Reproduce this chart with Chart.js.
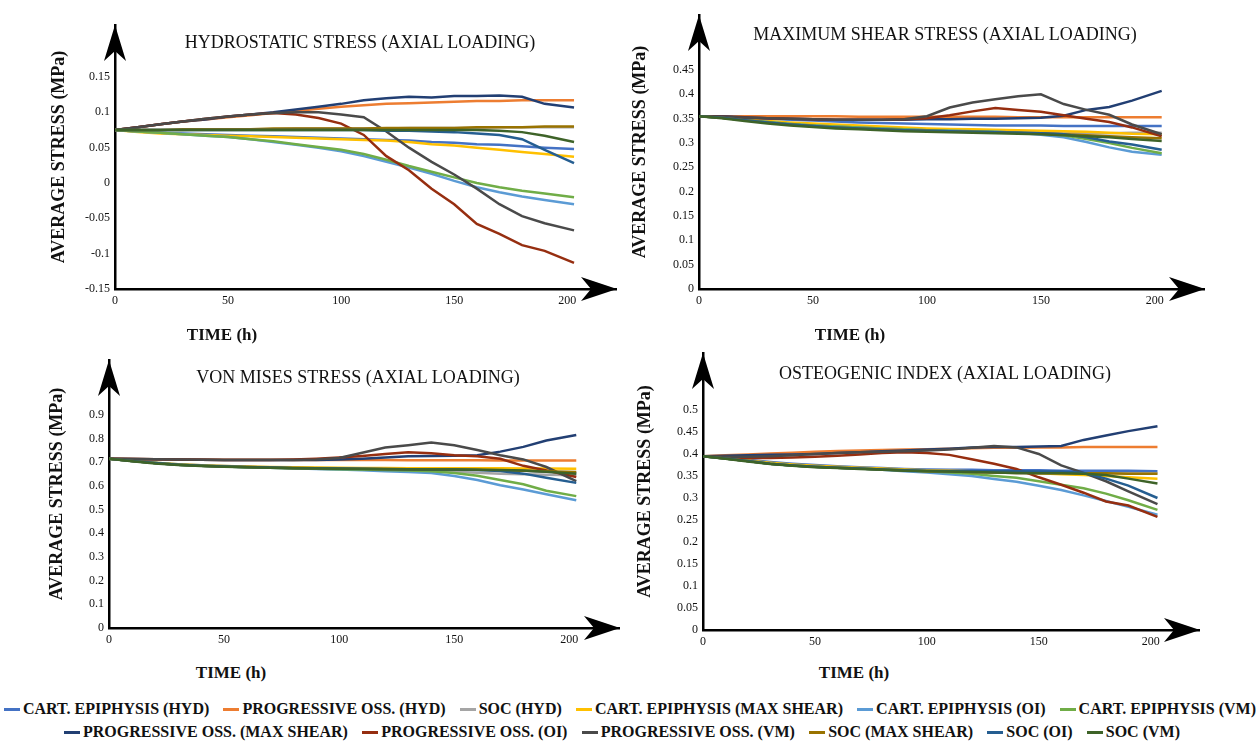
<!DOCTYPE html>
<html>
<head>
<meta charset="utf-8">
<script src="https://cdn.jsdelivr.net/npm/chart.js@4.4.1/dist/chart.umd.min.js"></script>
<style>
  body { margin: 0; background: #fff; }
  #page { position: relative; width: 1258px; height: 742px; overflow: hidden;
          font-family: "Liberation Serif", "Times New Roman", serif; color: #111; }
  canvas { position: absolute; }
  .txt { position: absolute; white-space: nowrap; transform: translate(-50%, -50%); }
  .ttl { font-size: 18px; }
  .xlab { font-size: 17px; font-weight: bold; }
  .row { position: absolute; display: flex; justify-content: space-between;
         font-weight: bold; font-size: 16px; line-height: 18px; }
  .item { display: flex; align-items: center; white-space: nowrap; }
  .item i { display: inline-block; width: 16px; height: 3px; margin-right: 3px; }
</style>
</head>
<body>
<div id="page">
  <canvas id="hyd" width="617" height="319" style="left:0px;top:0px"></canvas>
  <canvas id="shear" width="585" height="319" style="left:620px;top:0px"></canvas>
  <canvas id="vm" width="620" height="318" style="left:0px;top:340px"></canvas>
  <canvas id="oi" width="580" height="320" style="left:620px;top:340px"></canvas>

  <div class="txt ttl" style="left:360px;top:42px">HYDROSTATIC STRESS (AXIAL LOADING)</div>
  <div class="txt ttl" style="left:945px;top:34px">MAXIMUM SHEAR STRESS (AXIAL LOADING)</div>
  <div class="txt ttl" style="left:358px;top:377px">VON MISES STRESS (AXIAL LOADING)</div>
  <div class="txt ttl" style="left:945px;top:373px">OSTEOGENIC INDEX (AXIAL LOADING)</div>

  <div class="txt xlab" style="left:222px;top:335px">TIME (h)</div>
  <div class="txt xlab" style="left:850px;top:335px">TIME (h)</div>
  <div class="txt xlab" style="left:231px;top:673px">TIME (h)</div>
  <div class="txt xlab" style="left:854px;top:673px">TIME (h)</div>

  <div class="row" id="row1" style="left:4px;top:700px;width:1252px"></div>
  <div class="row" id="row2" style="left:64px;top:723px;width:1116px"></div>
</div>
<script>
// time (h) of each sample
const times = [0, 10, 20, 30, 40, 50, 60, 70, 80, 90, 100, 110, 120, 130, 140, 150, 160, 170, 180, 190, 203];
const timeTicks = [0, 50, 100, 150, 200];

const seriesNames = [
  "CART. EPIPHYSIS (HYD)", "PROGRESSIVE OSS. (HYD)", "SOC (HYD)",
  "CART. EPIPHYSIS (MAX SHEAR)", "CART. EPIPHYSIS (OI)", "CART. EPIPHYSIS (VM)",
  "PROGRESSIVE OSS. (MAX SHEAR)", "PROGRESSIVE OSS. (OI)", "PROGRESSIVE OSS. (VM)",
  "SOC (MAX SHEAR)", "SOC (OI)", "SOC (VM)"
];

const hydTicks = [-0.15, -0.1, -0.05, 0, 0.05, 0.1, 0.15];
const shearTicks = [0, 0.05, 0.1, 0.15, 0.2, 0.25, 0.3, 0.35, 0.4, 0.45];
const vmTicks = [0, 0.1, 0.2, 0.3, 0.4, 0.5, 0.6, 0.7, 0.8, 0.9];
const oiTicks = [0, 0.05, 0.1, 0.15, 0.2, 0.25, 0.3, 0.35, 0.4, 0.45, 0.5];

// one row per series, same order as seriesNames
const hydrostatic = [
  [.075,.073,.071,.07,.069,.068,.067,.066,.065,.064,.063,.062,.061,.06,.058,.057,.055,.054,.052,.05,.048],
  [.075,.079,.083,.087,.09,.093,.096,.099,.102,.105,.108,.11,.112,.113,.114,.115,.116,.116,.117,.117,.117],
  [.075,.075,.075,.075,.076,.076,.076,.076,.077,.077,.077,.077,.077,.078,.078,.078,.078,.079,.079,.079,.079],
  [.075,.072,.07,.069,.068,.067,.066,.065,.064,.063,.062,.061,.06,.058,.055,.053,.05,.047,.044,.041,.037],
  [.075,.073,.071,.069,.067,.065,.062,.058,.054,.05,.045,.038,.03,.022,.013,.003,-.006,-.013,-.019,-.024,-.03],
  [.075,.073,.071,.069,.067,.065,.062,.059,.055,.051,.047,.041,.033,.024,.016,.008,0,-.006,-.011,-.015,-.02],
  [.075,.079,.083,.087,.09,.094,.097,.1,.104,.108,.112,.117,.12,.122,.121,.123,.123,.124,.122,.112,.107],
  [.075,.079,.083,.087,.091,.094,.097,.099,.097,.092,.084,.068,.038,.018,-.008,-.03,-.058,-.072,-.088,-.096,-.113],
  [.075,.079,.083,.087,.091,.094,.097,.099,.1,.1,.097,.093,.073,.05,.03,.012,-.008,-.03,-.047,-.057,-.067],
  [.075,.075,.075,.076,.076,.076,.076,.077,.077,.077,.077,.077,.078,.078,.078,.078,.079,.079,.079,.08,.08],
  [.075,.075,.075,.075,.075,.075,.075,.075,.075,.075,.075,.075,.074,.074,.073,.072,.07,.068,.062,.047,.028],
  [.075,.075,.075,.075,.075,.075,.075,.075,.075,.075,.075,.075,.075,.075,.075,.075,.075,.074,.072,.067,.058]
];

const maxShear = [
  [.355,.354,.352,.35,.348,.346,.344,.342,.341,.34,.339,.338,.337,.336,.336,.336,.335,.335,.335,.335,.335],
  [.355,.355,.355,.355,.355,.355,.355,.354,.354,.354,.354,.354,.354,.354,.353,.353,.353,.353,.353,.353,.353],
  [.355,.352,.347,.343,.339,.336,.333,.331,.329,.327,.326,.325,.324,.323,.322,.321,.32,.32,.32,.321,.321],
  [.355,.353,.349,.345,.342,.34,.338,.336,.334,.332,.33,.329,.328,.327,.326,.325,.324,.323,.321,.319,.318],
  [.355,.352,.347,.343,.339,.336,.334,.332,.33,.328,.326,.325,.324,.323,.321,.317,.312,.302,.291,.282,.276],
  [.355,.352,.347,.343,.339,.336,.334,.332,.33,.328,.326,.325,.324,.323,.321,.319,.316,.308,.3,.29,.279],
  [.355,.355,.353,.351,.35,.349,.348,.348,.348,.348,.349,.349,.35,.35,.351,.352,.356,.368,.374,.387,.407],
  [.355,.354,.352,.351,.35,.349,.348,.348,.348,.349,.351,.357,.365,.372,.368,.364,.357,.35,.343,.332,.314],
  [.355,.354,.352,.351,.35,.349,.348,.348,.348,.349,.355,.373,.383,.39,.396,.4,.38,.368,.358,.338,.318],
  [.355,.352,.347,.342,.338,.335,.332,.33,.328,.326,.325,.324,.323,.322,.321,.32,.318,.316,.314,.312,.31],
  [.355,.352,.347,.342,.338,.335,.332,.33,.328,.326,.325,.324,.323,.322,.321,.32,.318,.312,.303,.297,.286],
  [.355,.351,.345,.34,.336,.333,.33,.328,.326,.324,.323,.322,.321,.32,.319,.318,.316,.314,.312,.308,.304]
];

const vonMises = [
  [.715,.706,.698,.692,.687,.684,.681,.679,.677,.676,.675,.674,.673,.672,.671,.67,.669,.667,.664,.66,.655],
  [.715,.714,.713,.712,.712,.711,.711,.711,.71,.71,.71,.71,.71,.709,.709,.709,.709,.708,.708,.708,.708],
  [.715,.705,.697,.69,.685,.682,.679,.677,.675,.673,.671,.669,.667,.664,.662,.66,.656,.652,.649,.647,.645],
  [.715,.706,.698,.692,.687,.684,.682,.68,.679,.678,.677,.676,.676,.675,.675,.675,.675,.675,.674,.674,.673],
  [.715,.705,.697,.69,.685,.682,.679,.677,.675,.672,.669,.666,.662,.659,.655,.642,.625,.603,.585,.565,.54],
  [.715,.705,.697,.69,.685,.682,.679,.677,.675,.673,.671,.669,.667,.665,.662,.655,.643,.625,.607,.58,.557],
  [.715,.714,.713,.712,.711,.71,.71,.71,.71,.71,.712,.715,.72,.725,.727,.728,.73,.745,.765,.792,.815],
  [.715,.714,.713,.712,.711,.71,.71,.71,.712,.715,.72,.727,.735,.742,.738,.73,.725,.715,.685,.665,.638],
  [.715,.714,.713,.712,.711,.71,.71,.71,.71,.712,.718,.74,.762,.772,.783,.772,.752,.73,.712,.68,.62],
  [.715,.705,.697,.69,.685,.682,.68,.678,.676,.675,.674,.673,.672,.671,.67,.669,.668,.666,.664,.662,.659],
  [.715,.705,.697,.69,.685,.682,.68,.678,.676,.675,.674,.673,.672,.671,.67,.669,.667,.663,.652,.635,.613],
  [.715,.704,.695,.689,.684,.681,.679,.677,.675,.674,.673,.672,.671,.67,.67,.669,.668,.667,.665,.66,.652]
];

const osteoIndex = [
  [.395,.392,.387,.382,.378,.375,.372,.37,.368,.366,.365,.364,.364,.363,.363,.363,.362,.362,.362,.362,.361],
  [.395,.397,.399,.401,.403,.405,.407,.408,.409,.41,.411,.412,.413,.414,.414,.415,.415,.416,.416,.416,.416],
  [.395,.39,.384,.378,.374,.371,.369,.367,.365,.363,.361,.36,.359,.358,.357,.356,.356,.356,.356,.356,.356],
  [.395,.391,.385,.38,.376,.373,.371,.369,.367,.365,.363,.362,.361,.36,.358,.356,.354,.352,.35,.347,.344],
  [.395,.39,.384,.378,.374,.371,.369,.367,.364,.361,.358,.354,.35,.343,.337,.328,.318,.306,.293,.28,.262],
  [.395,.39,.384,.378,.374,.371,.369,.367,.365,.363,.361,.358,.355,.35,.346,.338,.33,.322,.31,.295,.273],
  [.395,.396,.397,.398,.399,.4,.402,.404,.406,.408,.41,.412,.415,.416,.416,.417,.418,.432,.442,.452,.463],
  [.395,.393,.391,.391,.392,.394,.396,.399,.402,.404,.402,.398,.388,.378,.366,.347,.33,.312,.292,.283,.257],
  [.395,.394,.394,.395,.397,.4,.402,.404,.405,.406,.408,.41,.414,.418,.415,.4,.374,.357,.338,.315,.286],
  [.395,.39,.384,.378,.374,.371,.369,.367,.365,.363,.361,.36,.359,.358,.357,.357,.356,.356,.356,.355,.355],
  [.395,.39,.384,.378,.374,.371,.369,.367,.365,.363,.362,.361,.361,.361,.361,.36,.36,.357,.344,.328,.3],
  [.395,.389,.383,.377,.373,.37,.368,.366,.364,.362,.361,.36,.359,.358,.357,.356,.356,.355,.352,.344,.333]
];

const colors = ["#4472C4", "#ED7D31", "#A5A5A5", "#FFC000", "#5B9BD5", "#70AD47",
                "#223F73", "#962E10", "#4A4A4A", "#997300", "#255E91", "#3E6328"];

const FONT = "'Liberation Serif', 'Times New Roman', serif";

// arrow heads at the end of both axes
const arrows = {
  id: "arrows",
  afterDraw(chart) {
    const ctx = chart.ctx;
    const a = chart.chartArea;
    ctx.save();
    ctx.fillStyle = "#000";
    ctx.beginPath();
    ctx.moveTo(a.right, a.bottom);
    ctx.lineTo(a.right - 36, a.bottom - 12);
    ctx.lineTo(a.right - 26, a.bottom);
    ctx.lineTo(a.right - 36, a.bottom + 12);
    ctx.closePath();
    ctx.fill();
    ctx.beginPath();
    ctx.moveTo(a.left, a.top);
    ctx.lineTo(a.left - 11, a.top + 36);
    ctx.lineTo(a.left, a.top + 26);
    ctx.lineTo(a.left + 11, a.top + 36);
    ctx.closePath();
    ctx.fill();
    ctx.restore();
  }
};

function makePanel(id, values, yTicks, yMax, pad, yWidth) {
  return new Chart(document.getElementById(id), {
    type: "line",
    data: {
      datasets: values.map((row, i) => ({
        label: seriesNames[i],
        data: row.map((v, j) => ({ x: times[j], y: v })),
        borderColor: colors[i],
        backgroundColor: colors[i],
        borderWidth: 2.5,
        pointRadius: 0,
        tension: 0,
        order: values.length - i
      }))
    },
    plugins: [arrows],
    options: {
      responsive: false,
      animation: false,
      layout: { padding: pad },
      plugins: { legend: { display: false }, tooltip: { enabled: false } },
      scales: {
        x: {
          type: "linear", min: 0, max: 222,
          afterBuildTicks: s => { s.ticks = timeTicks.map(v => ({ value: v })); },
          afterFit: s => { s.height = 30; },
          grid: { display: false, drawTicks: false },
          border: { color: "#000", width: 2.5 },
          ticks: { color: "#111", font: { family: FONT, size: 12 }, padding: 5,
                   maxRotation: 0, autoSkip: false, callback: v => String(v) }
        },
        y: {
          type: "linear", min: yTicks[0], max: yMax,
          afterBuildTicks: s => { s.ticks = yTicks.map(v => ({ value: v })); },
          afterFit: s => { s.width = yWidth; },
          grid: { display: false, drawTicks: false },
          border: { color: "#000", width: 2.5 },
          ticks: { color: "#111", font: { family: FONT, size: 12 }, padding: 5,
                   autoSkip: false, callback: v => String(+v.toFixed(2)) },
          title: { display: true, text: "AVERAGE STRESS (MPa)", color: "#111", padding: 0,
                   font: { family: FONT, size: 18, weight: "bold" } }
        }
      }
    }
  });
}

makePanel("hyd", hydrostatic, hydTicks, 0.2236, { left: 49, top: 25, right: 0, bottom: 0 }, 66);
makePanel("shear", maxShear, shearTicks, 0.563, { left: 10, top: 15, right: 0, bottom: 0 }, 69);
makePanel("vm", vonMises, vmTicks, 1.132, { left: 47, top: 20, right: 0, bottom: 0 }, 62);
makePanel("oi", osteoIndex, oiTicks, 0.6295, { left: 15, top: 13, right: 0, bottom: 0 }, 68);

// shared legend
function addItems(rowId, from, to) {
  const row = document.getElementById(rowId);
  for (let i = from; i < to; i++) {
    const item = document.createElement("span");
    item.className = "item";
    item.innerHTML = '<i style="background:' + colors[i] + '"></i>' + seriesNames[i];
    row.appendChild(item);
  }
}
addItems("row1", 0, 6);
addItems("row2", 6, 12);
</script>
</body>
</html>
